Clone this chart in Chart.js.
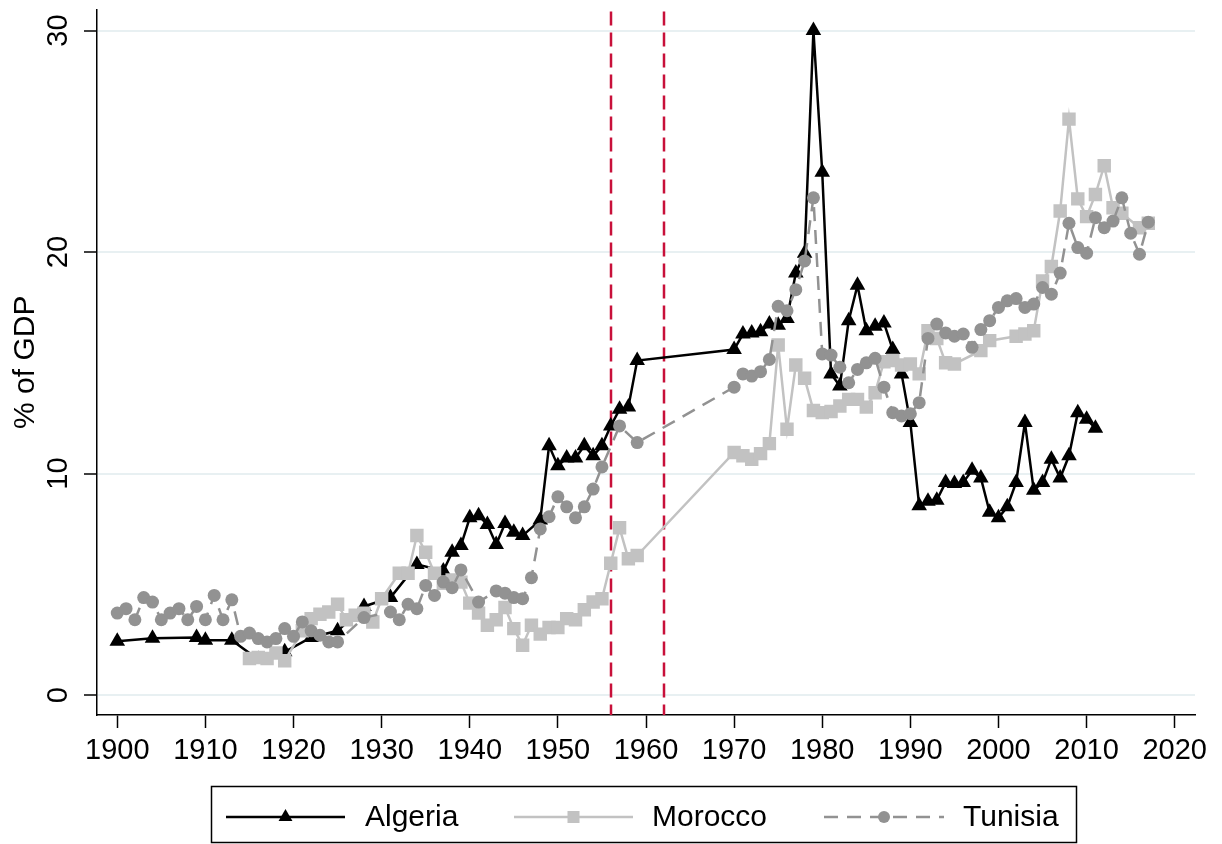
<!DOCTYPE html>
<html>
<head>
<meta charset="utf-8">
<title>% of GDP</title>
<script src="https://cdn.jsdelivr.net/npm/chart.js@4.4.0/dist/chart.umd.min.js"></script>
<style>
  html, body { margin: 0; padding: 0; background: #fff; }
  #chart-container { width: 1222px; height: 844px; }
</style>
</head>
<body>
<div id="chart-container"><canvas id="gdpChart" width="1222" height="844"></canvas></div>
<script>
// Data (% of GDP)
const algeriaYears = [1900, 1904, 1909, 1910, 1913, 1916, 1919, 1922, 1925, 1928, 1931, 1934, 1937, 1938, 1939,
    1940, 1941, 1942, 1943, 1944, 1945, 1946, 1948, 1949, 1950, 1951, 1952, 1953, 1954, 1955, 1956, 1957, 1958, 1959,
    1970, 1971, 1972, 1973, 1974, 1975, 1976, 1977, 1978, 1979, 1980, 1981, 1982, 1983, 1984, 1985, 1986, 1987, 1988, 1989,
    1990, 1991, 1992, 1993, 1994, 1995, 1996, 1997, 1998, 1999, 2000, 2001, 2002, 2003, 2004, 2005, 2006, 2007, 2008, 2009,
    2010, 2011];
const algeriaValues = [2.43, 2.57, 2.6, 2.48, 2.48, 1.6, 1.95, 2.6, 2.9, 4.0, 4.4, 5.9, 5.6, 6.45, 6.75,
    8.0, 8.1, 7.7, 6.8, 7.75, 7.35, 7.2, 7.9, 11.25, 10.35, 10.7, 10.7, 11.25, 10.8, 11.25, 12.15, 12.9, 13.0, 15.1,
    15.6, 16.3, 16.35, 16.4, 16.75, 16.7, 17.0, 19.05, 19.95, 30.0, 23.6, 14.5, 13.95, 16.9, 18.5, 16.45, 16.65, 16.8, 15.6, 14.5,
    12.3, 8.55, 8.75, 8.8, 9.6, 9.55, 9.6, 10.15, 9.8, 8.25, 8.0, 8.5, 9.6, 12.3, 9.25, 9.6, 10.65, 9.8, 10.8, 12.75,
    12.45, 12.05];

const moroccoYears = [1915, 1916, 1917, 1918, 1919, 1921, 1922, 1923, 1924, 1925, 1926, 1927, 1928, 1929,
    1930, 1932, 1933, 1934, 1935, 1936, 1937, 1938, 1939, 1940, 1941, 1942, 1943, 1944, 1945, 1946, 1947, 1948, 1949,
    1950, 1951, 1952, 1953, 1954, 1955, 1956, 1957, 1958, 1959,
    1970, 1971, 1972, 1973, 1974, 1975, 1976, 1977, 1978, 1979, 1980, 1981, 1982, 1983, 1984, 1985, 1986, 1987, 1988, 1989,
    1990, 1991, 1992, 1993, 1994, 1995, 1998, 1999, 2002, 2003, 2004, 2005, 2006, 2007, 2008, 2009,
    2010, 2011, 2012, 2013, 2014, 2016, 2017];
const moroccoValues = [1.65, 1.7, 1.65, 1.9, 1.55, 2.9, 3.45, 3.65, 3.75, 4.1, 3.4, 3.6, 3.7, 3.3,
    4.35, 5.5, 5.5, 7.2, 6.45, 5.5, 5.05, 5.2, 5.1, 4.15, 3.7, 3.15, 3.4, 3.95, 3.0, 2.25, 3.15, 2.75, 3.05,
    3.05, 3.45, 3.4, 3.85, 4.2, 4.35, 5.95, 7.55, 6.15, 6.3,
    10.95, 10.8, 10.65, 10.9, 11.35, 15.8, 12.0, 14.9, 14.3, 12.85, 12.75, 12.8, 13.05, 13.35, 13.35, 13.0, 13.65, 15.05, 15.1, 14.9,
    14.95, 14.5, 16.45, 16.1, 15.0, 14.95, 15.55, 16.0, 16.2, 16.3, 16.45, 18.7, 19.35, 21.85, 26.0, 22.4,
    21.6, 22.6, 23.9, 22.0, 21.75, 21.1, 21.3];

const tunisiaYears = [1900, 1901, 1902, 1903, 1904, 1905, 1906, 1907, 1908, 1909, 1910, 1911, 1912, 1913, 1914,
    1915, 1916, 1917, 1918, 1919, 1920, 1921, 1922, 1923, 1924, 1925, 1928, 1931, 1932, 1933, 1934, 1935, 1936,
    1937, 1938, 1939, 1941, 1943, 1944, 1945, 1946, 1947, 1948, 1949, 1950, 1951, 1952, 1953, 1954, 1955, 1957, 1959,
    1970, 1971, 1972, 1973, 1974, 1975, 1976, 1977, 1978, 1979, 1980, 1981, 1982, 1983, 1984, 1985, 1986, 1987, 1988, 1989,
    1990, 1991, 1992, 1993, 1994, 1995, 1996, 1997, 1998, 1999, 2000, 2001, 2002, 2003, 2004, 2005, 2006, 2007, 2008, 2009,
    2010, 2011, 2012, 2013, 2014, 2015, 2016, 2017];
const tunisiaValues = [3.7, 3.9, 3.4, 4.4, 4.2, 3.4, 3.7, 3.9, 3.4, 4.0, 3.4, 4.5, 3.4, 4.3, 2.65,
    2.8, 2.55, 2.4, 2.55, 3.0, 2.65, 3.3, 2.9, 2.7, 2.4, 2.4, 3.5, 3.75, 3.4, 4.1, 3.9, 4.95, 4.5,
    5.1, 4.85, 5.65, 4.2, 4.7, 4.6, 4.4, 4.35, 5.3, 7.5, 8.05, 8.95, 8.5, 8.0, 8.5, 9.3, 10.3, 12.15, 11.4,
    13.9, 14.5, 14.4, 14.6, 15.15, 17.55, 17.35, 18.3, 19.6, 22.45, 15.4, 15.35, 14.8, 14.1, 14.7, 15.0, 15.2, 13.9, 12.75, 12.6,
    12.7, 13.2, 16.1, 16.75, 16.35, 16.2, 16.3, 15.7, 16.5, 16.9, 17.5, 17.8, 17.9, 17.5, 17.65, 18.4, 18.1, 19.05, 21.3, 20.2,
    19.95, 21.55, 21.1, 21.4, 22.45, 20.85, 19.9, 21.35];

// Axis ticks and reference years (vertical red lines)
const xTickYears = [1900, 1910, 1920, 1930, 1940, 1950, 1960, 1970, 1980, 1990, 2000, 2010, 2020];
const yTickValues = [0, 10, 20, 30];
const markerYears = [1956, 1962];

const FONT = '"Liberation Sans", Arial, Helvetica, sans-serif';
const COLORS = {
    algeria: '#000000',
    morocco: '#c2c2c2',
    tunisia: '#929292',
    marker: '#c8103a',
    grid: '#e8f0f2'
};
const TUNISIA_DASH = [14, 9];

// Zip two arrays into {x, y} points
function toPoints(years, values) {
    return years.map((year, i) => ({ x: year, y: values[i] }));
}

// Draw one marker shape (used for the hand-drawn legend)
function drawMarker(ctx, style, x, y, r, color) {
    ctx.save();
    ctx.fillStyle = color;
    ctx.beginPath();
    if (style === 'triangle') {
        ctx.moveTo(x, y - r);
        ctx.lineTo(x + r * 0.866, y + r * 0.5);
        ctx.lineTo(x - r * 0.866, y + r * 0.5);
        ctx.closePath();
    } else if (style === 'rect') {
        ctx.rect(x - r * 0.707, y - r * 0.707, r * 1.414, r * 1.414);
    } else {
        ctx.arc(x, y, r, 0, Math.PI * 2);
    }
    ctx.fill();
    ctx.restore();
}

// Vertical dashed lines at the independence years
const referenceLinesPlugin = {
    id: 'referenceLines',
    beforeDatasetsDraw(chart) {
        const { ctx, chartArea, scales } = chart;
        ctx.save();
        ctx.strokeStyle = COLORS.marker;
        ctx.lineWidth = 2.5;
        ctx.setLineDash([14, 7]);
        markerYears.forEach(year => {
            const px = Math.round(scales.x.getPixelForValue(year));
            ctx.beginPath();
            ctx.moveTo(px, chartArea.top + 2);
            ctx.lineTo(px, chartArea.bottom);
            ctx.stroke();
        });
        ctx.restore();
    }
};

// Boxed legend below the plot, line + marker + label
const boxedLegendPlugin = {
    id: 'boxedLegend',
    afterDraw(chart) {
        const ctx = chart.ctx;
        const y = 817;
        const items = [
            { label: 'Algeria', color: COLORS.algeria, style: 'triangle', r: 8, dash: [], x1: 226, x2: 345, tx: 365 },
            { label: 'Morocco', color: COLORS.morocco, style: 'rect', r: 8.5, dash: [], x1: 514, x2: 633, tx: 652 },
            { label: 'Tunisia', color: COLORS.tunisia, style: 'circle', r: 6, dash: TUNISIA_DASH, x1: 824, x2: 944, tx: 963 }
        ];
        ctx.save();
        ctx.strokeStyle = '#000';
        ctx.lineWidth = 1.5;
        ctx.strokeRect(211.5, 786.5, 865, 56);

        items.forEach(item => {
            ctx.strokeStyle = item.color;
            ctx.lineWidth = 2.5;
            ctx.setLineDash(item.dash);
            ctx.beginPath();
            ctx.moveTo(item.x1, y);
            ctx.lineTo(item.x2, y);
            ctx.stroke();
            ctx.setLineDash([]);
            drawMarker(ctx, item.style, (item.x1 + item.x2) / 2, y, item.r, item.color);

            ctx.fillStyle = '#000';
            ctx.font = '30px ' + FONT;
            ctx.textAlign = 'left';
            ctx.textBaseline = 'middle';
            ctx.fillText(item.label, item.tx, y + 1);
        });
        ctx.restore();
    }
};

function seriesDataset(label, years, values, color, pointStyle, radius, dash, order) {
    return {
        label: label,
        data: toPoints(years, values),
        borderColor: color,
        backgroundColor: color,
        borderWidth: 2.5,
        borderDash: dash,
        pointStyle: pointStyle,
        pointRadius: radius,
        pointBorderWidth: 0,
        pointBackgroundColor: color,
        tension: 0,
        order: order
    };
}

function renderChart() {
    const canvas = document.getElementById('gdpChart');
    const ctx = canvas.getContext('2d');

    Chart.defaults.font.family = FONT;
    Chart.defaults.color = '#000';

    // Stata-style stacking: Algeria at the bottom, Tunisia on top
    new Chart(ctx, {
        type: 'line',
        data: {
            datasets: [
                seriesDataset('Algeria', algeriaYears, algeriaValues, COLORS.algeria, 'triangle', 9, [], 2),
                seriesDataset('Morocco', moroccoYears, moroccoValues, COLORS.morocco, 'rect', 9.5, [], 1),
                seriesDataset('Tunisia', tunisiaYears, tunisiaValues, COLORS.tunisia, 'circle', 6.5, TUNISIA_DASH, 0)
            ]
        },
        options: {
            responsive: false,
            devicePixelRatio: 1,
            animation: false,
            layout: { padding: { left: 0, right: 27, top: 8, bottom: 0 } },
            plugins: {
                legend: { display: false },
                tooltip: { enabled: false }
            },
            scales: {
                x: {
                    type: 'linear',
                    min: 1897.7,
                    max: 2022.3,
                    afterBuildTicks: scale => { scale.ticks = xTickYears.map(v => ({ value: v })); },
                    afterFit: scale => {
                        scale.height = 129;
                        scale.paddingLeft = 0;
                        scale.paddingRight = 0;
                    },
                    border: { display: true, color: '#000', width: 1.5 },
                    grid: {
                        display: true,
                        drawOnChartArea: false,
                        drawTicks: true,
                        tickLength: 13,
                        tickColor: '#000',
                        tickWidth: 1.5
                    },
                    ticks: {
                        font: { size: 29 },
                        color: '#000',
                        padding: 6,
                        maxRotation: 0,
                        minRotation: 0,
                        callback: v => String(v)
                    }
                },
                y: {
                    type: 'linear',
                    min: -0.9,
                    max: 30.95,
                    afterBuildTicks: scale => { scale.ticks = yTickValues.map(v => ({ value: v })); },
                    afterFit: scale => {
                        scale.width = 97;
                        scale.paddingTop = 0;
                        scale.paddingBottom = 0;
                    },
                    border: { display: true, color: '#000', width: 1.5 },
                    grid: {
                        display: true,
                        color: COLORS.grid,
                        lineWidth: 2,
                        drawTicks: true,
                        tickLength: 13,
                        tickColor: '#000',
                        tickWidth: 1.5
                    },
                    ticks: {
                        font: { size: 29 },
                        color: '#000',
                        padding: 9,
                        minRotation: 90,
                        maxRotation: 90,
                        crossAlign: 'center',
                        callback: v => String(v)
                    },
                    title: {
                        display: true,
                        text: '% of GDP',
                        font: { size: 30 },
                        color: '#000',
                        padding: { top: 8, bottom: 0 }
                    }
                }
            }
        },
        plugins: [referenceLinesPlugin, boxedLegendPlugin]
    });
}

renderChart();
</script>
</body>
</html>
